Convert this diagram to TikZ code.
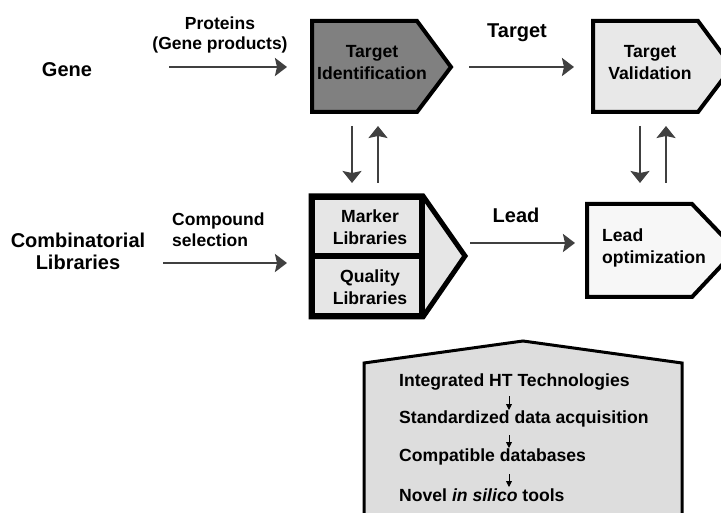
\documentclass[tikz,border=0pt]{standalone}
\usepackage{fontspec}
\setmainfont{Liberation Sans}
\usetikzlibrary{arrows.meta}
\definecolor{idgray}{RGB}{128,128,128}
\definecolor{valgray}{RGB}{232,232,232}
\definecolor{libgray}{RGB}{230,230,230}
\definecolor{leadgray}{RGB}{247,247,247}
\definecolor{techgray}{RGB}{221,221,221}
\definecolor{arrowgray}{RGB}{64,64,64}
\tikzset{
  boxtext/.style={font=\bfseries\fontsize{17.6}{22}\selectfont, align=center, inner sep=0pt},
  sidetext/.style={font=\bfseries\fontsize{20}{22}\selectfont, align=center, inner sep=0pt},
  arrowtext/.style={font=\bfseries\fontsize{17.5}{20.5}\selectfont, align=center, inner sep=0pt},
  flow/.style={draw=arrowgray, line width=2.5pt, -{Stealth[length=12pt,width=18pt,inset=2pt]}},
  feedback/.style={draw=arrowgray, line width=2pt, -{Stealth[length=12pt,width=19pt,inset=2pt]}},
  minor/.style={draw=black, line width=0.9pt, -{Stealth[length=6pt,width=6pt,inset=0pt]}},
}
\begin{document}
\begin{tikzpicture}[x=1pt,y=-1pt,line join=miter]
                \useasboundingbox (0,0) rectangle (721,513);
                \clip (0,0) rectangle (721,513);
                % boxes
                \fill [color=idgray] (312,21)--(417,21)--(451,67)--(417,112)--(312,112)--cycle;
                \draw [line width=4pt] (312,21)--(417,21)--(451,67)--(417,112)--(312,112)--cycle;
                \fill [color=valgray] (593,21)--(698,21)--(732,67)--(698,112)--(593,112)--cycle;
                \draw [line width=4pt] (593,21)--(698,21)--(732,67)--(698,112)--(593,112)--cycle;
                \fill [color=libgray] (311,196)--(423,196)--(465,256)--(423,317)--(311,317)--cycle;
                \draw [line width=5pt] (311,196)--(423,196)--(465,256)--(423,317)--(311,317)--cycle;
                \draw [line width=4pt] (423,196)--(423,317);
                \draw [line width=6pt] (311,256)--(423,256);
                \draw [line width=2pt] (314,199) rectangle (420,314);
                \fill [color=leadgray] (587,204)--(692,204)--(736,250)--(692,297)--(587,297)--cycle;
                \draw [line width=4pt] (587,204)--(692,204)--(736,250)--(692,297)--(587,297)--cycle;
                \fill [color=techgray] (364,363)--(523,341)--(682,363)--(682,530)--(364,530)--cycle;
                \draw [line width=3pt] (364,363)--(523,341)--(682,363)--(682,530)--(364,530)--cycle;
                % texts
                \node [sidetext] (gene) at (67,70) {Gene};
                \node [sidetext] (combi) at (78,251) {Combinatorial\\Libraries};
                \node [arrowtext] (proteins) at (220,35) {Proteins\\(Gene products)};
                \node [arrowtext, align=left, anchor=west] (compound) at (172,229.5) {Compound\\selection};
                \node [sidetext] (targetlbl) at (517,33) {Target};
                \node [sidetext] (leadlbl) at (516,215) {Lead};
                \node [boxtext] (tid) at (372,63) {Target\\Identification};
                \node [boxtext] (tval) at (650,63) {Target\\Validation};
                \node [boxtext] (marker) at (370,227.5) {Marker\\Libraries};
                \node [boxtext] (quality) at (370,287) {Quality\\Libraries};
                \node [boxtext, align=left, anchor=west] (leadopt) at (602,247.5) {Lead\\optimization};
                \node [boxtext, anchor=west] (ht) at (399,382) {Integrated HT Technologies};
                \node [boxtext, anchor=west] (std) at (399,419) {Standardized data acquisition};
                \node [boxtext, anchor=west] (compat) at (399,457) {Compatible databases};
                \node [boxtext, anchor=west] (novel) at (399,495) {Novel \textit{in silico} tools};
                % arrow ends
                \coordinate (g0) at (169,67);   \coordinate (g1) at (287,67);
                \coordinate (c0) at (163,263);  \coordinate (c1) at (287,263);
                \coordinate (t0) at (469,67);   \coordinate (t1) at (574,67);
                \coordinate (l0) at (470,243);  \coordinate (l1) at (575,243);
                \coordinate (dl0) at (352,126); \coordinate (dl1) at (352,183);
                \coordinate (ul0) at (378,183); \coordinate (ul1) at (378,126);
                \coordinate (dr0) at (640,126); \coordinate (dr1) at (640,183);
                \coordinate (ur0) at (666,183); \coordinate (ur1) at (666,126);
                \draw [flow] (g0)--(g1);
                \draw [flow] (c0)--(c1);
                \draw [flow] (t0)--(t1);
                \draw [flow] (l0)--(l1);
                \draw [feedback] (dl0)--(dl1);
                \draw [feedback] (ul0)--(ul1);
                \draw [feedback] (dr0)--(dr1);
                \draw [feedback] (ur0)--(ur1);
                \coordinate (s1) at (509,396); \coordinate (s2) at (509,410);
                \coordinate (s3) at (509,435); \coordinate (s4) at (509,448);
                \coordinate (s5) at (509,474); \coordinate (s6) at (509,487);
                \draw [minor] (s1)--(s2);
                \draw [minor] (s3)--(s4);
                \draw [minor] (s5)--(s6);
\end{tikzpicture}
\end{document}
